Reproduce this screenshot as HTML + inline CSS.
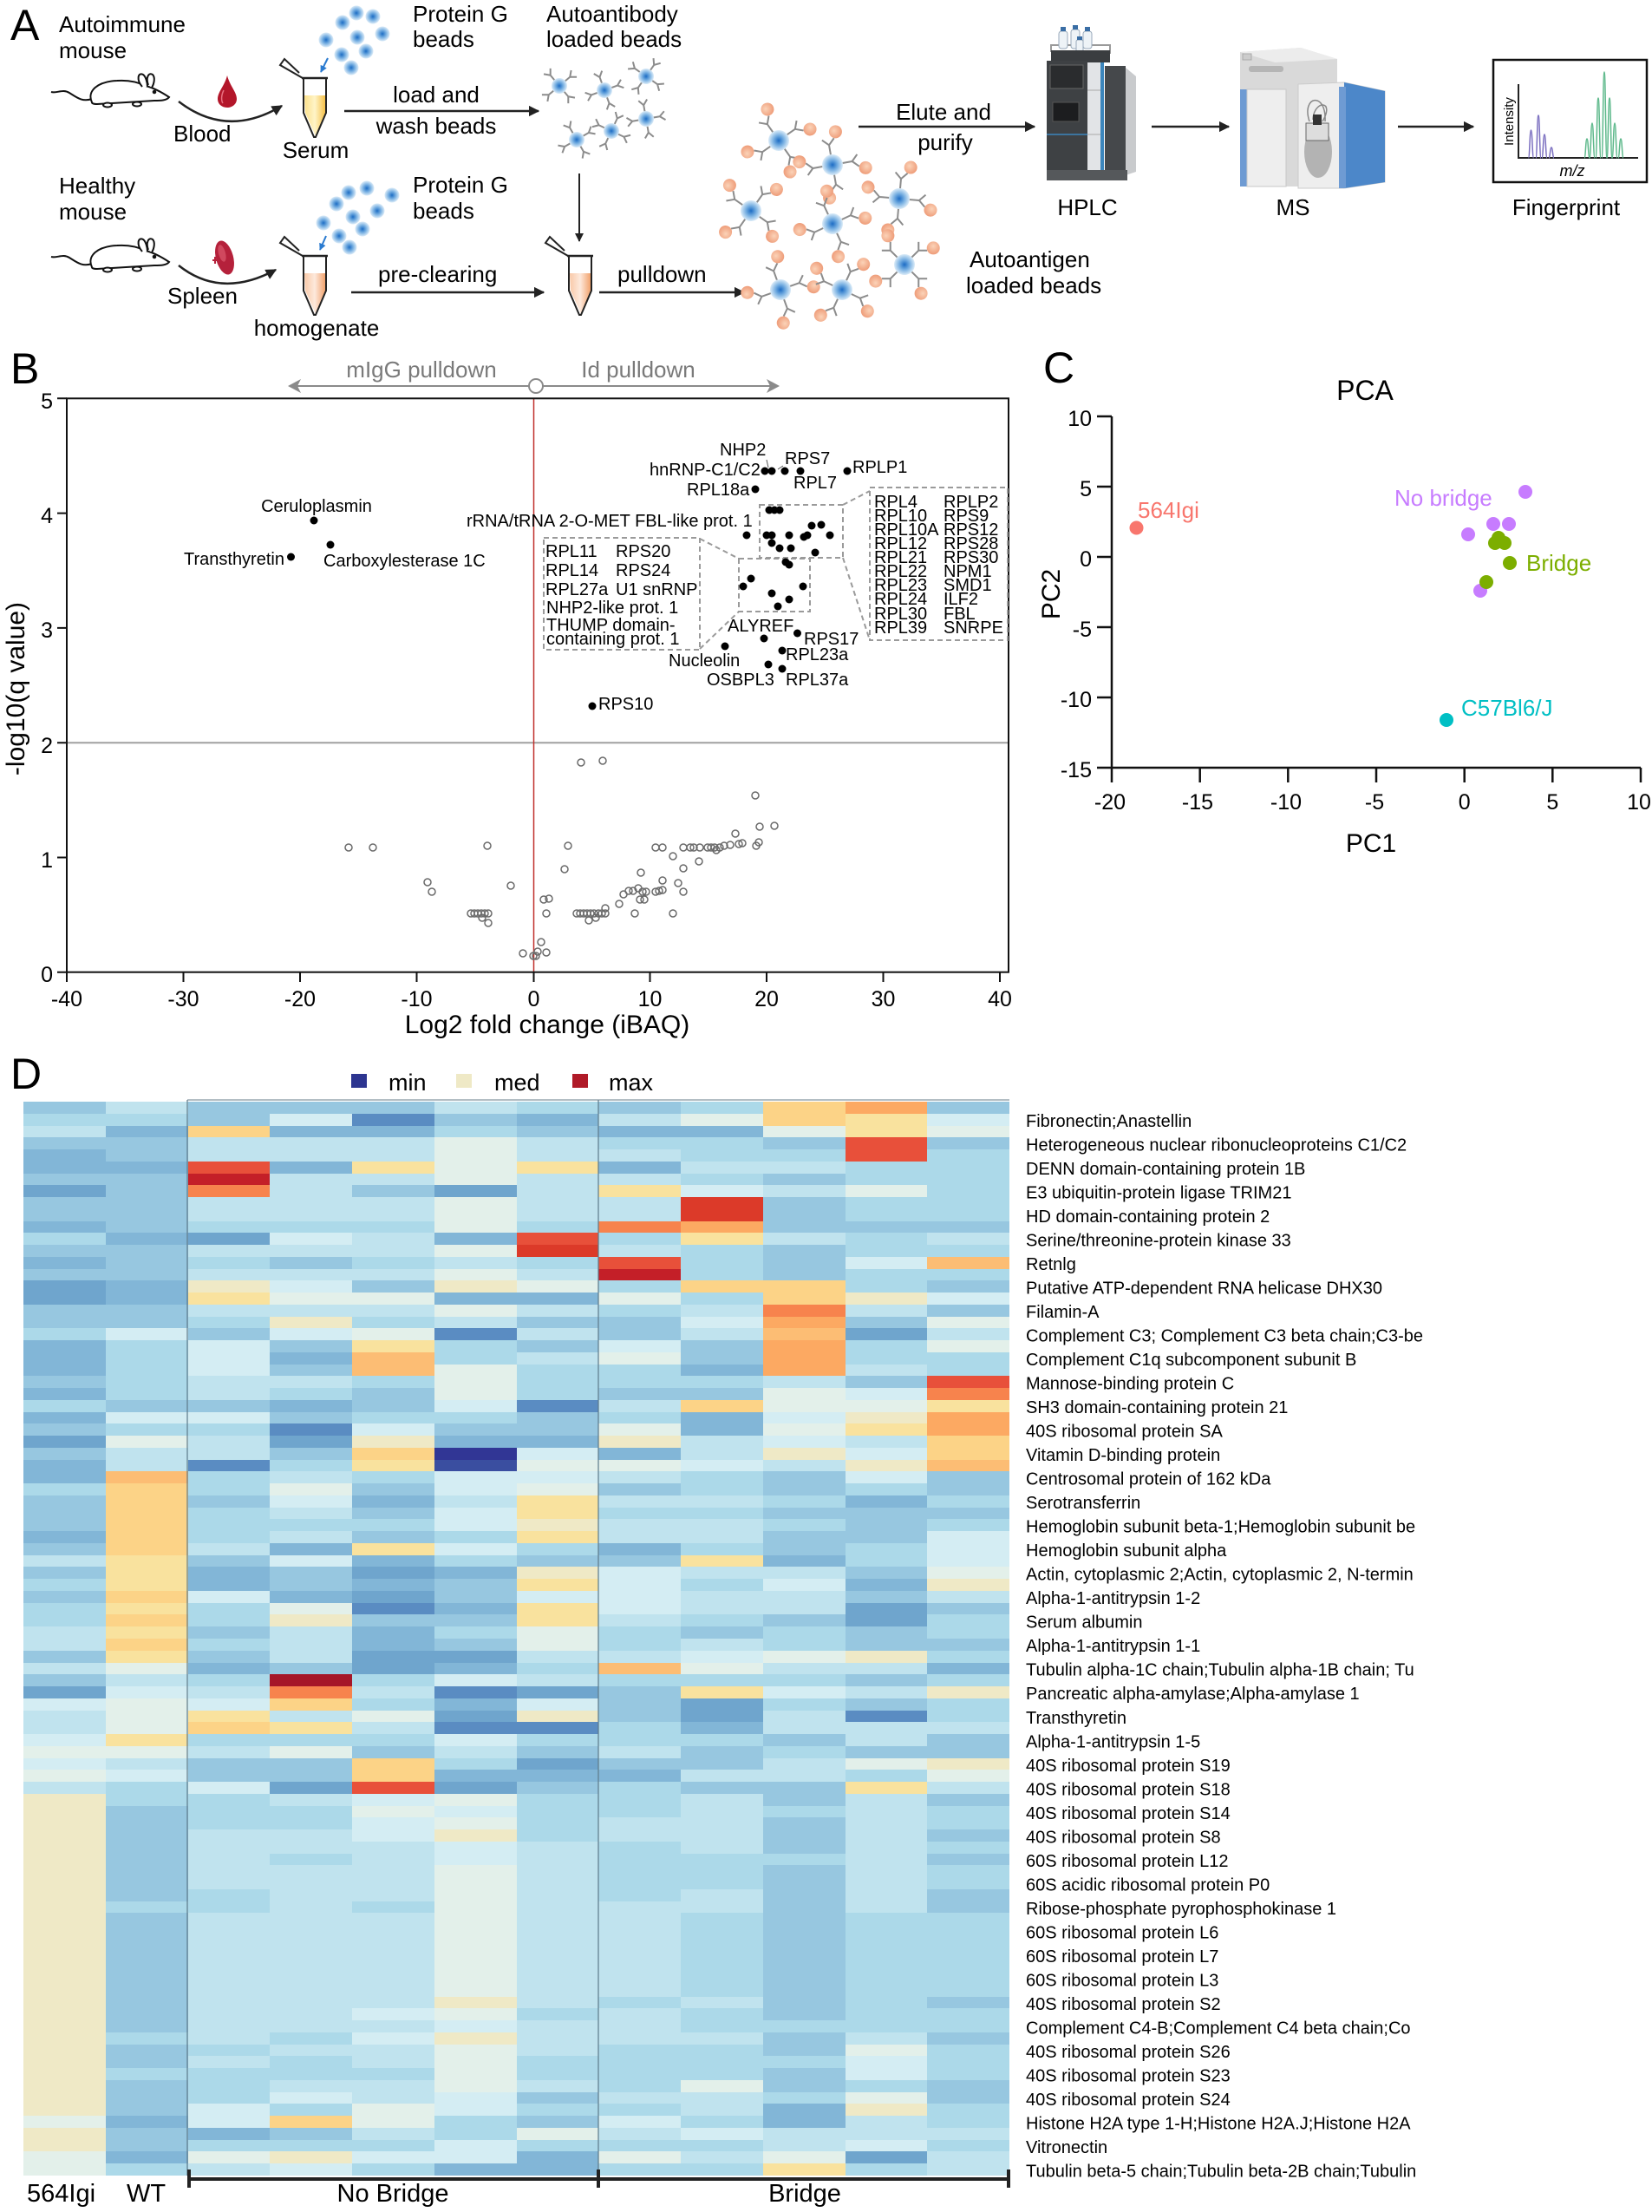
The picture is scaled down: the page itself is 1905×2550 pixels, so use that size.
<!DOCTYPE html>
<html><head><meta charset="utf-8">
<style>
html,body{margin:0;padding:0;background:#fff;}
#wrap{position:relative;width:1905px;height:2550px;overflow:hidden;background:#fff;font-family:"Liberation Sans",Arial,sans-serif;}
#hm{position:absolute;left:27px;top:1270px;width:1137px;height:1238px;display:grid;grid-template-columns:repeat(12,1fr);grid-template-rows:repeat(90,1fr);}
#hm>*{display:block;}
k0{background:#313695}kz{background:#3a4ea0}k1{background:#5a8cc2}k2{background:#6fa5cd}k3{background:#82b6d7}k4{background:#97c7e0}k5{background:#acd9e9}k6{background:#c0e3ee}k7{background:#d4edf3}k8{background:#e3f0ea}k9{background:#efe9c6}ka{background:#f9e29e}kb{background:#fcd387}kc{background:#fcbd74}kd{background:#fca962}ke{background:#f7834d}kf{background:#e8503a}kg{background:#dc3a29}kh{background:#c41f28}ki{background:#a51628}
svg{position:absolute;left:0;top:0;}
svg text{font-family:"Liberation Sans",Arial,sans-serif;}
</style></head><body><div id="wrap">
<div id="hm">
<k4></k4><k6></k6><k4></k4><k4></k4><k4></k4><k6></k6><k5></k5><k4></k4><k5></k5><kb></kb><kd></kd><k4></k4>
<k5></k5><k5></k5><k4></k4><k7></k7><k1></k1><k4></k4><k3></k3><k6></k6><k8></k8><kb></kb><ka></ka><k7></k7>
<k6></k6><k3></k3><kb></kb><k3></k3><k3></k3><k5></k5><k4></k4><k3></k3><k3></k3><k8></k8><ka></ka><k8></k8>
<k4></k4><k4></k4><k6></k6><k6></k6><k6></k6><k8></k8><k6></k6><k5></k5><k5></k5><k4></k4><kf></kf><k4></k4>
<k3></k3><k4></k4><k6></k6><k6></k6><k6></k6><k8></k8><k6></k6><k6></k6><k5></k5><k5></k5><kf></kf><k5></k5>
<k3></k3><k3></k3><kf></kf><k3></k3><ka></ka><k8></k8><ka></ka><k3></k3><k6></k6><k6></k6><k5></k5><k5></k5>
<k4></k4><k4></k4><kh></kh><k6></k6><k6></k6><k8></k8><k6></k6><k6></k6><k5></k5><k4></k4><k5></k5><k5></k5>
<k2></k2><k4></k4><ke></ke><k6></k6><k4></k4><k2></k2><k6></k6><ka></ka><k7></k7><k6></k6><k8></k8><k5></k5>
<k4></k4><k4></k4><k6></k6><k6></k6><k6></k6><k8></k8><k6></k6><k6></k6><kg></kg><k4></k4><k5></k5><k5></k5>
<k4></k4><k4></k4><k6></k6><k6></k6><k6></k6><k8></k8><k6></k6><k6></k6><kg></kg><k4></k4><k5></k5><k5></k5>
<k3></k3><k4></k4><k5></k5><k5></k5><k5></k5><k8></k8><k5></k5><ke></ke><kd></kd><k4></k4><k4></k4><k4></k4>
<k5></k5><k3></k3><k2></k2><k7></k7><k6></k6><k3></k3><kf></kf><k5></k5><ka></ka><k6></k6><k5></k5><k6></k6>
<k4></k4><k4></k4><k6></k6><k6></k6><k6></k6><k8></k8><kg></kg><k6></k6><k5></k5><k4></k4><k5></k5><k5></k5>
<k3></k3><k4></k4><k5></k5><k4></k4><k5></k5><k6></k6><k5></k5><kf></kf><k5></k5><k4></k4><k7></k7><kc></kc>
<k4></k4><k4></k4><k6></k6><k6></k6><k6></k6><k8></k8><k6></k6><kh></kh><k5></k5><k4></k4><k5></k5><k5></k5>
<k2></k2><k3></k3><k9></k9><k7></k7><k4></k4><k9></k9><k8></k8><k5></k5><kb></kb><kb></kb><k5></k5><k4></k4>
<k2></k2><k3></k3><ka></ka><k8></k8><k8></k8><k3></k3><k3></k3><k8></k8><k5></k5><kb></kb><k9></k9><k7></k7>
<k4></k4><k4></k4><k6></k6><k6></k6><k6></k6><k8></k8><k6></k6><k5></k5><k6></k6><ke></ke><k6></k6><k4></k4>
<k4></k4><k4></k4><k5></k5><k9></k9><k5></k5><k6></k6><k4></k4><k4></k4><k7></k7><kd></kd><k4></k4><k8></k8>
<k5></k5><k7></k7><k4></k4><k7></k7><k8></k8><k1></k1><k6></k6><k4></k4><k6></k6><kc></kc><k2></k2><k6></k6>
<k3></k3><k5></k5><k7></k7><k4></k4><ka></ka><k5></k5><k4></k4><k7></k7><k4></k4><kd></kd><k5></k5><k8></k8>
<k3></k3><k5></k5><k7></k7><k3></k3><kc></kc><k5></k5><k6></k6><k8></k8><k4></k4><kd></kd><k5></k5><k5></k5>
<k3></k3><k5></k5><k7></k7><k4></k4><kc></kc><k8></k8><k5></k5><k5></k5><k3></k3><kd></kd><k6></k6><k5></k5>
<k4></k4><k5></k5><k6></k6><k6></k6><k5></k5><k8></k8><k5></k5><k5></k5><k5></k5><k6></k6><k4></k4><kf></kf>
<k3></k3><k5></k5><k6></k6><k5></k5><k4></k4><k8></k8><k5></k5><k4></k4><k4></k4><k8></k8><k7></k7><ke></ke>
<k5></k5><k4></k4><k4></k4><k3></k3><k4></k4><k7></k7><k1></k1><k6></k6><kb></kb><k8></k8><k8></k8><ka></ka>
<k3></k3><k7></k7><k7></k7><k4></k4><k5></k5><k5></k5><k4></k4><k5></k5><k3></k3><k7></k7><k9></k9><kd></kd>
<k4></k4><k5></k5><k5></k5><k1></k1><k7></k7><k4></k4><k4></k4><k8></k8><k3></k3><k8></k8><ka></ka><kd></kd>
<k2></k2><k8></k8><k6></k6><k2></k2><k9></k9><k3></k3><k3></k3><k9></k9><k6></k6><k7></k7><k6></k6><kb></kb>
<k4></k4><k6></k6><k6></k6><k4></k4><kb></kb><k0></k0><k7></k7><k3></k3><k6></k6><k9></k9><k7></k7><kb></kb>
<k3></k3><k6></k6><k1></k1><k5></k5><ka></ka><kz></kz><k8></k8><k8></k8><k7></k7><k6></k6><k9></k9><kc></kc>
<k3></k3><kc></kc><k5></k5><k6></k6><k5></k5><k7></k7><k7></k7><k6></k6><k5></k5><k4></k4><k7></k7><k4></k4>
<k5></k5><kb></kb><k5></k5><k8></k8><k4></k4><k7></k7><k8></k8><k4></k4><k5></k5><k4></k4><k5></k5><k4></k4>
<k4></k4><kb></kb><k4></k4><k7></k7><k3></k3><k6></k6><ka></ka><k6></k6><k6></k6><k5></k5><k3></k3><k5></k5>
<k4></k4><kb></kb><k5></k5><k6></k6><k4></k4><k7></k7><ka></ka><k5></k5><k5></k5><k4></k4><k4></k4><k4></k4>
<k4></k4><kb></kb><k5></k5><k5></k5><k5></k5><k7></k7><k9></k9><k6></k6><k6></k6><k5></k5><k4></k4><k5></k5>
<k3></k3><kb></kb><k5></k5><k6></k6><k4></k4><k5></k5><ka></ka><k6></k6><k6></k6><k4></k4><k4></k4><k7></k7>
<k4></k4><kb></kb><k6></k6><k3></k3><ka></ka><k7></k7><k5></k5><k3></k3><k5></k5><k4></k4><k5></k5><k7></k7>
<k6></k6><ka></ka><k4></k4><k7></k7><k3></k3><k5></k5><k4></k4><k4></k4><ka></ka><k3></k3><k5></k5><k7></k7>
<k4></k4><ka></ka><k3></k3><k4></k4><k2></k2><k3></k3><k9></k9><k7></k7><k6></k6><k6></k6><k4></k4><k8></k8>
<k5></k5><ka></ka><k3></k3><k4></k4><k3></k3><k4></k4><ka></ka><k7></k7><k5></k5><k7></k7><k3></k3><k9></k9>
<k4></k4><kb></kb><k7></k7><k3></k3><k2></k2><k4></k4><k7></k7><k7></k7><k6></k6><k6></k6><k4></k4><k6></k6>
<k5></k5><ka></ka><k5></k5><k8></k8><k1></k1><k3></k3><ka></ka><k7></k7><k6></k6><k6></k6><k2></k2><k4></k4>
<k5></k5><kb></kb><k5></k5><k9></k9><k4></k4><k4></k4><ka></ka><k6></k6><k5></k5><k4></k4><k2></k2><k5></k5>
<k6></k6><ka></ka><k4></k4><k6></k6><k3></k3><k5></k5><k8></k8><k5></k5><k4></k4><k5></k5><k4></k4><k5></k5>
<k6></k6><kb></kb><k5></k5><k6></k6><k3></k3><k4></k4><k8></k8><k5></k5><k6></k6><k5></k5><k4></k4><k4></k4>
<k4></k4><ka></ka><k4></k4><k6></k6><k2></k2><k2></k2><k6></k6><k6></k6><k7></k7><k8></k8><k9></k9><k5></k5>
<k6></k6><k8></k8><k3></k3><k4></k4><k2></k2><k3></k3><k5></k5><kc></kc><k8></k8><k6></k6><k6></k6><k3></k3>
<k4></k4><k6></k6><k5></k5><ki></ki><k5></k5><k7></k7><k6></k6><k5></k5><k5></k5><k5></k5><k4></k4><k5></k5>
<k2></k2><k7></k7><k6></k6><ke></ke><k6></k6><k1></k1><k2></k2><k4></k4><ka></ka><k7></k7><k6></k6><k9></k9>
<k7></k7><k8></k8><k7></k7><kb></kb><k5></k5><k3></k3><k7></k7><k4></k4><k2></k2><k5></k5><k4></k4><k5></k5>
<k6></k6><k8></k8><ka></ka><k6></k6><k8></k8><k2></k2><k9></k9><k4></k4><k2></k2><k6></k6><k1></k1><k5></k5>
<k6></k6><k8></k8><kb></kb><ka></ka><k6></k6><k1></k1><k1></k1><k5></k5><k3></k3><k6></k6><k6></k6><k6></k6>
<k7></k7><ka></ka><k5></k5><k5></k5><k5></k5><k7></k7><k5></k5><k5></k5><k5></k5><k4></k4><k6></k6><k4></k4>
<k8></k8><k8></k8><k6></k6><k8></k8><k4></k4><k6></k6><k4></k4><k6></k6><k4></k4><k5></k5><k4></k4><k4></k4>
<k7></k7><k6></k6><k4></k4><k4></k4><kb></kb><k5></k5><k2></k2><k4></k4><k4></k4><k6></k6><k8></k8><k9></k9>
<k8></k8><k7></k7><k4></k4><k4></k4><kb></kb><k3></k3><k3></k3><k3></k3><k6></k6><k6></k6><k5></k5><k8></k8>
<k6></k6><k5></k5><k7></k7><k2></k2><kf></kf><k2></k2><k4></k4><k5></k5><k4></k4><k4></k4><ka></ka><k6></k6>
<k9></k9><k5></k5><k5></k5><k6></k6><k7></k7><k8></k8><k5></k5><k5></k5><k6></k6><k4></k4><k6></k6><k4></k4>
<k9></k9><k4></k4><k5></k5><k5></k5><k8></k8><k7></k7><k5></k5><k5></k5><k6></k6><k5></k5><k6></k6><k5></k5>
<k9></k9><k4></k4><k5></k5><k5></k5><k7></k7><k8></k8><k5></k5><k6></k6><k6></k6><k4></k4><k6></k6><k5></k5>
<k9></k9><k4></k4><k6></k6><k6></k6><k7></k7><k9></k9><k5></k5><k6></k6><k6></k6><k4></k4><k6></k6><k4></k4>
<k9></k9><k4></k4><k6></k6><k6></k6><k6></k6><k7></k7><k6></k6><k5></k5><k6></k6><k4></k4><k6></k6><k5></k5>
<k9></k9><k4></k4><k6></k6><k5></k5><k6></k6><k7></k7><k6></k6><k5></k5><k5></k5><k5></k5><k6></k6><k4></k4>
<k9></k9><k4></k4><k6></k6><k6></k6><k6></k6><k8></k8><k6></k6><k5></k5><k5></k5><k4></k4><k6></k6><k5></k5>
<k9></k9><k4></k4><k6></k6><k6></k6><k6></k6><k8></k8><k6></k6><k5></k5><k5></k5><k4></k4><k6></k6><k5></k5>
<k9></k9><k4></k4><k5></k5><k6></k6><k6></k6><k8></k8><k6></k6><k5></k5><k6></k6><k4></k4><k6></k6><k4></k4>
<k9></k9><k5></k5><k5></k5><k6></k6><k5></k5><k8></k8><k6></k6><k6></k6><k6></k6><k4></k4><k6></k6><k4></k4>
<k9></k9><k4></k4><k6></k6><k6></k6><k6></k6><k8></k8><k6></k6><k6></k6><k5></k5><k4></k4><k5></k5><k5></k5>
<k9></k9><k4></k4><k6></k6><k6></k6><k6></k6><k8></k8><k6></k6><k6></k6><k5></k5><k4></k4><k5></k5><k5></k5>
<k9></k9><k4></k4><k6></k6><k6></k6><k6></k6><k8></k8><k6></k6><k6></k6><k5></k5><k4></k4><k5></k5><k5></k5>
<k9></k9><k4></k4><k6></k6><k6></k6><k6></k6><k8></k8><k6></k6><k6></k6><k5></k5><k4></k4><k5></k5><k5></k5>
<k9></k9><k4></k4><k6></k6><k6></k6><k6></k6><k8></k8><k6></k6><k6></k6><k5></k5><k4></k4><k5></k5><k5></k5>
<k9></k9><k4></k4><k6></k6><k6></k6><k6></k6><k8></k8><k6></k6><k6></k6><k5></k5><k4></k4><k5></k5><k5></k5>
<k9></k9><k4></k4><k6></k6><k6></k6><k6></k6><k8></k8><k6></k6><k6></k6><k5></k5><k4></k4><k5></k5><k5></k5>
<k9></k9><k4></k4><k6></k6><k6></k6><k6></k6><k9></k9><k6></k6><k5></k5><k6></k6><k4></k4><k5></k5><k4></k4>
<k9></k9><k4></k4><k6></k6><k6></k6><k7></k7><k8></k8><k5></k5><k6></k6><k5></k5><k4></k4><k5></k5><k5></k5>
<k9></k9><k4></k4><k6></k6><k6></k6><k6></k6><k7></k7><k6></k6><k6></k6><k5></k5><k5></k5><k5></k5><k5></k5>
<k9></k9><k5></k5><k6></k6><k5></k5><k7></k7><k9></k9><k6></k6><k6></k6><k6></k6><k4></k4><k6></k6><k4></k4>
<k9></k9><k4></k4><k5></k5><k6></k6><k6></k6><k8></k8><k6></k6><k5></k5><k5></k5><k4></k4><k8></k8><k5></k5>
<k9></k9><k4></k4><k6></k6><k5></k5><k6></k6><k8></k8><k5></k5><k5></k5><k5></k5><k5></k5><k7></k7><k5></k5>
<k9></k9><k5></k5><k5></k5><k5></k5><k5></k5><k8></k8><k5></k5><k5></k5><k5></k5><k4></k4><k7></k7><k5></k5>
<k9></k9><k4></k4><k5></k5><k6></k6><k6></k6><k8></k8><k6></k6><k5></k5><k8></k8><k4></k4><k5></k5><k4></k4>
<k9></k9><k4></k4><k5></k5><k7></k7><k6></k6><k7></k7><k4></k4><k6></k6><k6></k6><k5></k5><k8></k8><k4></k4>
<k9></k9><k4></k4><k7></k7><k5></k5><k8></k8><k7></k7><k5></k5><k5></k5><k6></k6><k3></k3><k9></k9><k5></k5>
<k8></k8><k3></k3><k7></k7><kb></kb><k8></k8><k5></k5><k4></k4><k7></k7><k5></k5><k3></k3><k6></k6><k5></k5>
<k9></k9><k4></k4><k3></k3><k4></k4><k6></k6><k5></k5><k8></k8><k6></k6><k7></k7><k6></k6><k6></k6><k6></k6>
<k9></k9><k4></k4><k5></k5><k5></k5><k5></k5><k7></k7><k5></k5><k5></k5><k5></k5><k6></k6><k7></k7><k5></k5>
<k8></k8><k3></k3><k8></k8><k9></k9><k7></k7><k7></k7><k3></k3><k8></k8><k6></k6><k8></k8><k2></k2><k6></k6>
<k8></k8><k5></k5><k6></k6><k7></k7><k5></k5><k3></k3><k3></k3><k5></k5><k5></k5><ka></ka><k5></k5><k6></k6>
</div>
<svg width="1905" height="2550" viewBox="0 0 1905 2550" xmlns="http://www.w3.org/2000/svg">
<defs>
<radialGradient id="bd" cx="50%" cy="50%" r="50%"><stop offset="0" stop-color="#1c6cc4"/><stop offset="0.5" stop-color="#78b0e2"/><stop offset="1" stop-color="#dcecf8"/></radialGradient>
<radialGradient id="og" cx="40%" cy="40%" r="60%"><stop offset="0" stop-color="#fbd3b8"/><stop offset="1" stop-color="#ef9f7c"/></radialGradient>
<linearGradient id="ser" x1="0" y1="0" x2="1" y2="0"><stop offset="0" stop-color="#fbe08a"/><stop offset="0.5" stop-color="#fff4c8"/><stop offset="1" stop-color="#f6c24a"/></linearGradient>
<linearGradient id="hom" x1="0" y1="0" x2="1" y2="0"><stop offset="0" stop-color="#f9c9a8"/><stop offset="0.5" stop-color="#fde9dc"/><stop offset="1" stop-color="#f2a36e"/></linearGradient>
<marker id="ah" viewBox="0 0 10 10" refX="9" refY="5" markerWidth="5" markerHeight="5" orient="auto"><path d="M0,0 L10,5 L0,10 z" fill="#222"/></marker>
<marker id="ahb" viewBox="0 0 10 10" refX="9" refY="5" markerWidth="4" markerHeight="4" orient="auto"><path d="M0,0 L10,5 L0,10 z" fill="#2b7bd0"/></marker>
<g id="ab"><path d="M0,-8 V-16 M0,-16 L-5,-22 M0,-16 L5,-22" stroke="#8c8c8c" stroke-width="2" fill="none"/></g>
<g id="abb"><use href="#ab" transform="rotate(-40)"/><use href="#ab" transform="rotate(50)"/><use href="#ab" transform="rotate(140)"/><use href="#ab" transform="rotate(230)"/><circle r="9" fill="url(#bd)"/></g>
<g id="ag1"><path d="M0,-11 V-23 M0,-23 L-7,-30 M0,-23 L7,-30" stroke="#8c8c8c" stroke-width="2" fill="none"/><circle cx="10" cy="-37" r="7.5" fill="url(#og)"/></g>
<g id="agb"><use href="#ag1" transform="rotate(-35)"/><use href="#ag1" transform="rotate(55)"/><use href="#ag1" transform="rotate(145)"/><use href="#ag1" transform="rotate(235)"/><circle r="12" fill="url(#bd)"/></g>
<g id="mouse" fill="#fff" stroke="#111" stroke-width="2">
<path d="M106,114 C95,118 88,112 80,107 C72,102 66,108 59,106" fill="none"/>
<path d="M106,118 C100,105 112,94 135,93 C150,92 160,95 168,99 C176,101 186,106 195,112 C192,116 185,116 178,116 L112,120 C108,120 106,119 106,118 Z"/>
<path d="M164,100 C157,92 159,83 165,86 C168,88 170,95 170,100"/>
<path d="M171,98 C168,90 171,83 176,86 C179,89 178,96 175,101"/>
<ellipse cx="124" cy="121" rx="5" ry="2.5"/><ellipse cx="158" cy="120" rx="5" ry="2.5"/>
<circle cx="178" cy="106" r="1.3" fill="#111"/>
</g>
<g id="tube" fill="none" stroke="#222" stroke-width="2">
<path d="M-14,0 L-40,-15 L-35,-22 L-18,-6" fill="#fff"/>
<path d="M-13,0 H13 V40 L1,68 H-1 L-13,40 Z"/>
<path d="M-15,0 H15" stroke-width="2.5"/>
</g>
</defs>

<!-- Panel A -->
<g font-size="26" fill="#000">
<text x="12" y="46" font-size="50">A</text>
<text x="68" y="37">Autoimmune</text><text x="68" y="67">mouse</text>
<text x="200" y="163">Blood</text>
<text x="364" y="182" text-anchor="middle">Serum</text>
<text x="476" y="25">Protein G</text><text x="476" y="54">beads</text>
<text x="630" y="25">Autoantibody</text><text x="630" y="54">loaded beads</text>
<text x="503" y="118" text-anchor="middle">load and</text><text x="503" y="154" text-anchor="middle">wash beads</text>
<text x="68" y="223">Healthy</text><text x="68" y="253">mouse</text>
<text x="193" y="350">Spleen</text>
<text x="365" y="387" text-anchor="middle">homogenate</text>
<text x="476" y="222">Protein G</text><text x="476" y="252">beads</text>
<text x="436" y="325">pre-clearing</text>
<text x="712" y="325">pulldown</text>
<text x="1088" y="138" text-anchor="middle">Elute and</text><text x="1090" y="173" text-anchor="middle">purify</text>
<text x="1118" y="308">Autoantigen</text><text x="1114" y="338">loaded beads</text>
<text x="1254" y="248" text-anchor="middle">HPLC</text>
<text x="1491" y="248" text-anchor="middle">MS</text>
<text x="1806" y="248" text-anchor="middle">Fingerprint</text>
</g>
<use href="#mouse"/>
<use href="#mouse" transform="translate(0,190)"/>
<path d="M262,87 C259,99 251,106 251,114 C251,120 256,124 262,124 C268,124 273,120 273,114 C273,106 265,99 262,87 Z" fill="#b3162a"/>
<path d="M258,104 C255,110 255,116 257,119" stroke="#e87080" stroke-width="1.5" fill="none"/>
<ellipse cx="259" cy="297" rx="10" ry="20" transform="rotate(-15 259 297)" fill="#b5213b"/>
<ellipse cx="256" cy="292" rx="4" ry="10" transform="rotate(-15 256 292)" fill="#d0485e"/>
<path d="M252,300 L245,300 M248,296 L248,304" stroke="#b5213b" stroke-width="2"/>
<g fill="none" stroke="#222" stroke-width="2.5" marker-end="url(#ah)">
<path d="M206,117 Q262,160 325,122"/>
<path d="M206,306 Q255,345 318,311"/>
<line x1="397" y1="128" x2="621" y2="128"/>
<line x1="405" y1="337" x2="627" y2="337"/>
<line x1="691" y1="337" x2="858" y2="337"/>
<line x1="990" y1="146" x2="1193" y2="146"/>
<line x1="1328" y1="146" x2="1417" y2="146"/>
<line x1="1612" y1="146" x2="1699" y2="146"/>
<line x1="668" y1="200" x2="668" y2="278" stroke-width="2"/>
</g>
<!-- tubes -->
<path d="M351,110 H375 V130 L364,157 L352,130 Z" fill="url(#ser)"/>
<use href="#tube" transform="translate(363,90)"/>
<path d="M351,315 H375 V335 L364,362 L352,335 Z" fill="url(#hom)"/>
<use href="#tube" transform="translate(363,295)"/>
<path d="M657,315 H681 V335 L670,362 L658,335 Z" fill="url(#hom)"/>
<use href="#tube" transform="translate(669,295)"/>
<line x1="378" y1="67" x2="370" y2="83" stroke="#2b7bd0" stroke-width="2" marker-end="url(#ahb)"/>
<line x1="376" y1="272" x2="369" y2="288" stroke="#2b7bd0" stroke-width="2" marker-end="url(#ahb)"/>
<!-- protein G beads -->
<g fill="url(#bd)">
<circle cx="411" cy="15" r="8.5"/><circle cx="430" cy="19" r="8.5"/><circle cx="395" cy="26" r="8.5"/><circle cx="441" cy="39" r="8.5"/><circle cx="376" cy="46" r="8.5"/><circle cx="412" cy="43" r="8.5"/><circle cx="422" cy="59" r="8.5"/><circle cx="394" cy="63" r="8.5"/><circle cx="405" cy="78" r="8.5"/>
<circle cx="423" cy="217" r="8.5"/><circle cx="402" cy="222" r="8.5"/><circle cx="452" cy="225" r="8.5"/><circle cx="388" cy="235" r="8.5"/><circle cx="435" cy="243" r="8.5"/><circle cx="407" cy="250" r="8.5"/><circle cx="373" cy="257" r="8.5"/><circle cx="418" cy="264" r="8.5"/><circle cx="391" cy="272" r="8.5"/><circle cx="403" cy="285" r="8.5"/>
</g>
<use href="#abb" transform="translate(645,99)"/><use href="#abb" transform="translate(697,104) rotate(20)"/><use href="#abb" transform="translate(745,88) rotate(-15)"/><use href="#abb" transform="translate(665,161) rotate(10)"/><use href="#abb" transform="translate(705,151) rotate(-25)"/><use href="#abb" transform="translate(745,137) rotate(30)"/>
<use href="#agb" transform="translate(898,162)"/><use href="#agb" transform="translate(960,190) rotate(25)"/><use href="#agb" transform="translate(866,243) rotate(-20)"/><use href="#agb" transform="translate(960,258) rotate(10)"/><use href="#agb" transform="translate(1037,229) rotate(40)"/><use href="#agb" transform="translate(1043,305) rotate(-10)"/><use href="#agb" transform="translate(900,334) rotate(15)"/><use href="#agb" transform="translate(971,334) rotate(-30)"/>
<!-- HPLC -->
<g>
<path d="M1212,60 V52 H1280 V62" stroke="#9a9a9a" stroke-width="2" fill="none"/>
<rect x="1221" y="36" width="10" height="20" rx="3" fill="#eef3f7" stroke="#9ab" stroke-width="1"/>
<rect x="1235" y="34" width="10" height="22" rx="3" fill="#eef3f7" stroke="#9ab" stroke-width="1"/>
<rect x="1249" y="36" width="10" height="20" rx="3" fill="#eef3f7" stroke="#9ab" stroke-width="1"/>
<rect x="1241" y="46" width="8" height="14" rx="2" fill="#eef3f7" stroke="#9ab" stroke-width="1"/>
<rect x="1223" y="31" width="6" height="5" fill="#3a6ea5"/><rect x="1237" y="29" width="6" height="5" fill="#3a6ea5"/><rect x="1251" y="31" width="6" height="5" fill="#3a6ea5"/><rect x="1242" y="42" width="6" height="4" fill="#3a6ea5"/>
<rect x="1212" y="58" width="68" height="14" fill="#3a3d40"/>
<rect x="1207" y="70" width="47" height="130" fill="#3e4144"/>
<rect x="1211" y="75" width="38" height="27" fill="#2a2c2e" stroke="#666" stroke-width="1"/>
<rect x="1214" y="118" width="30" height="22" fill="#1c1d1f" stroke="#555" stroke-width="1"/>
<rect x="1254" y="72" width="16" height="128" fill="#e2e4e7"/>
<line x1="1254" y1="104" x2="1270" y2="104" stroke="#aaa"/><line x1="1254" y1="155" x2="1270" y2="155" stroke="#aaa"/>
<line x1="1207" y1="155" x2="1254" y2="155" stroke="#3c86bc" stroke-width="1.5"/>
<rect x="1269" y="72" width="4" height="128" fill="#3c86bc"/>
<rect x="1274" y="76" width="24" height="126" fill="#45484b"/>
<polygon points="1298,78 1310,88 1310,198 1298,202" fill="#c9cbcd"/>
<rect x="1207" y="196" width="93" height="12" fill="#55585b"/>
</g>
<!-- MS -->
<g>
<polygon points="1430,60 1500,55 1542,68 1542,215 1430,215" fill="#d9d9d9"/>
<polygon points="1430,60 1500,55 1542,68 1470,72" fill="#ececec"/>
<rect x="1433" y="62" width="10" height="7" fill="#ccc" stroke="#aaa" stroke-width="1"/>
<rect x="1440" y="76" width="40" height="7" rx="3" fill="#b5b5b5"/>
<rect x="1430" y="103" width="8" height="112" fill="#6e9bd3"/>
<rect x="1438" y="103" width="45" height="112" fill="#eeeeee" stroke="#c8c8c8" stroke-width="1"/>
<polygon points="1497,97 1550,95 1597,105 1597,210 1550,217 1497,217" fill="#eeeeee" stroke="#ccc" stroke-width="1"/>
<polygon points="1550,95 1597,105 1597,210 1550,217" fill="#4c87c9"/>
<rect x="1544" y="100" width="8" height="117" fill="#6e9bd3"/>
<ellipse cx="1520" cy="175" rx="16" ry="30" fill="#b3b3b3"/>
<path d="M1510,140 C1500,110 1530,105 1528,140 M1514,138 C1515,115 1540,115 1525,140" stroke="#888" stroke-width="1.5" fill="none"/>
<rect x="1506" y="142" width="26" height="20" fill="#ddd" stroke="#666" stroke-width="1"/>
<rect x="1514" y="132" width="10" height="12" fill="#333"/>
</g>
<!-- Fingerprint -->
<rect x="1722" y="69" width="177" height="141" fill="#fff" stroke="#111" stroke-width="2.5"/>
<path d="M1751,97 V182 H1889" stroke="#222" stroke-width="2" fill="none"/>
<text transform="translate(1745,140) rotate(-90)" font-size="15" text-anchor="middle">Intensity</text>
<g fill="none" stroke="#7b6fc0" stroke-width="1.5">
<path d="M1762.5,182 C1764,182 1764,150 1765.5,150 C1767,150 1767,182 1768.5,182"/>
<path d="M1771,182 C1772.5,182 1772.5,133 1774,133 C1775.5,133 1775.5,182 1777,182"/>
<path d="M1778,182 C1779.5,182 1779.5,155 1781,155 C1782.5,155 1782.5,182 1784,182"/>
<path d="M1786,182 C1787.5,182 1787.5,170 1789,170 C1790.5,170 1790.5,182 1792,182"/>
</g>
<g fill="none" stroke="#5cb88a" stroke-width="1.5">
<path d="M1827,182 C1828.5,182 1828.5,160 1830,160 C1831.5,160 1831.5,182 1833,182"/>
<path d="M1833,182 C1834.5,182 1834.5,142 1836,142 C1837.5,142 1837.5,182 1839,182"/>
<path d="M1840,182 C1841.5,182 1841.5,113 1843,113 C1844.5,113 1844.5,182 1846,182"/>
<path d="M1847,182 C1848.5,182 1848.5,83 1850,83 C1851.5,83 1851.5,182 1853,182"/>
<path d="M1853,182 C1854.5,182 1854.5,113 1856,113 C1857.5,113 1857.5,182 1859,182"/>
<path d="M1859,182 C1860.5,182 1860.5,142 1862,142 C1863.5,142 1863.5,182 1865,182"/>
<path d="M1866,182 C1867.5,182 1867.5,160 1869,160 C1870.5,160 1870.5,182 1872,182"/>
</g>
<text x="1813" y="203" font-size="18" font-style="italic" text-anchor="middle">m/z</text>

<!-- Panel B -->
<text x="12" y="442" font-size="50">B</text>
<text x="486" y="435" font-size="26" fill="#7a7a7a" text-anchor="middle">mIgG pulldown</text>
<text x="736" y="435" font-size="26" fill="#7a7a7a" text-anchor="middle">Id pulldown</text>
<line x1="340" y1="445" x2="892" y2="445" stroke="#8a8a8a" stroke-width="2"/>
<polygon points="332,445 347,437 343,445 347,453" fill="#8a8a8a"/>
<polygon points="899,445 884,437 888,445 884,453" fill="#8a8a8a"/>
<circle cx="618" cy="445" r="8" fill="#fff" stroke="#8a8a8a" stroke-width="2"/>
<line x1="77" y1="856.2" x2="1163" y2="856.2" stroke="#a0a0a0" stroke-width="2"/>
<line x1="615.5" y1="459" x2="615.5" y2="1121" stroke="#c0302c" stroke-width="1.5"/>
<rect x="77" y="459.3" width="1086" height="661.4" fill="none" stroke="#111" stroke-width="2"/>
<path d="M66,459.3 H77 M66,591.6 H77 M66,723.9 H77 M66,856.2 H77 M66,988.5 H77 M66,1120.7 H77 M77,1121 V1132 M211.5,1121 V1132 M346,1121 V1132 M480.5,1121 V1132 M615.5,1121 V1132 M749.5,1121 V1132 M884,1121 V1132 M1018.5,1121 V1132 M1153,1121 V1132" stroke="#111" stroke-width="2"/>
<g font-size="25" text-anchor="end">
<text x="61" y="471">5</text><text x="61" y="603">4</text><text x="61" y="735">3</text><text x="61" y="868">2</text><text x="61" y="1000">1</text><text x="61" y="1132">0</text>
</g>
<g font-size="25" text-anchor="middle">
<text x="77" y="1160">-40</text><text x="211.5" y="1160">-30</text><text x="346" y="1160">-20</text><text x="480.5" y="1160">-10</text><text x="615.5" y="1160">0</text><text x="749.5" y="1160">10</text><text x="884" y="1160">20</text><text x="1018.5" y="1160">30</text><text x="1153" y="1160">40</text>
</g>
<text x="631" y="1191" font-size="30" text-anchor="middle">Log2 fold change (iBAQ)</text>
<text transform="translate(28,794) rotate(-90)" font-size="30" text-anchor="middle">-log10(q value)</text>
<!-- open circles -->
<g fill="none" stroke="#6a6a6a" stroke-width="1.5">
<circle cx="670" cy="879" r="4"/><circle cx="695" cy="877" r="4"/><circle cx="871" cy="917" r="4"/><circle cx="876" cy="953" r="4"/><circle cx="893" cy="952" r="4"/><circle cx="848" cy="961" r="4"/><circle cx="872" cy="975" r="4"/><circle cx="875" cy="971" r="4"/><circle cx="402" cy="977" r="4"/><circle cx="430" cy="977" r="4"/><circle cx="562" cy="975" r="4"/><circle cx="655" cy="975" r="4"/><circle cx="756" cy="977" r="4"/><circle cx="764" cy="977" r="4"/>
<circle cx="788" cy="977" r="4"/><circle cx="796" cy="977" r="4"/><circle cx="800" cy="977" r="4"/><circle cx="807" cy="977" r="4"/><circle cx="816" cy="977" r="4"/><circle cx="820" cy="977" r="4"/><circle cx="824" cy="977" r="4"/><circle cx="826" cy="980" r="4"/><circle cx="830" cy="977" r="4"/><circle cx="835" cy="975" r="4"/><circle cx="842" cy="974" r="4"/><circle cx="852" cy="973" r="4"/><circle cx="856" cy="972" r="4"/>
<circle cx="776" cy="987" r="4"/><circle cx="806" cy="993" r="4"/><circle cx="651" cy="1002" r="4"/><circle cx="788" cy="1001" r="4"/><circle cx="739" cy="1006" r="4"/><circle cx="764" cy="1015" r="4"/><circle cx="782" cy="1018" r="4"/><circle cx="493" cy="1017" r="4"/><circle cx="498" cy="1028" r="4"/><circle cx="589" cy="1021" r="4"/>
<circle cx="719" cy="1031" r="4"/><circle cx="725" cy="1027" r="4"/><circle cx="730" cy="1027" r="4"/><circle cx="736" cy="1024" r="4"/><circle cx="741" cy="1028" r="4"/><circle cx="745" cy="1028" r="4"/><circle cx="756" cy="1028" r="4"/><circle cx="760" cy="1027" r="4"/><circle cx="764" cy="1026" r="4"/>
<circle cx="738" cy="1037" r="4"/><circle cx="743" cy="1037" r="4"/><circle cx="788" cy="1028" r="4"/><circle cx="714" cy="1042" r="4"/><circle cx="627" cy="1037" r="4"/><circle cx="633" cy="1036" r="4"/>
<circle cx="543" cy="1053" r="4"/><circle cx="547" cy="1053" r="4"/><circle cx="551" cy="1053" r="4"/><circle cx="555" cy="1053" r="4"/><circle cx="559" cy="1053" r="4"/><circle cx="563" cy="1053" r="4"/><circle cx="556" cy="1058" r="4"/><circle cx="563" cy="1064" r="4"/>
<circle cx="665" cy="1053" r="4"/><circle cx="669" cy="1053" r="4"/><circle cx="673" cy="1053" r="4"/><circle cx="677" cy="1053" r="4"/><circle cx="681" cy="1053" r="4"/><circle cx="685" cy="1053" r="4"/><circle cx="690" cy="1053" r="4"/><circle cx="694" cy="1053" r="4"/><circle cx="698" cy="1053" r="4"/>
<circle cx="679" cy="1061" r="4"/><circle cx="687" cy="1058" r="4"/><circle cx="698" cy="1047" r="4"/><circle cx="732" cy="1053" r="4"/><circle cx="776" cy="1053" r="4"/><circle cx="630" cy="1053" r="4"/><circle cx="624" cy="1086" r="4"/>
<circle cx="603" cy="1099" r="4"/><circle cx="615" cy="1102" r="4"/><circle cx="620" cy="1097" r="4"/><circle cx="618" cy="1102" r="4"/><circle cx="630" cy="1098" r="4"/>
</g>
<!-- dashed boxes -->
<g fill="none" stroke="#9a9a9a" stroke-width="2" stroke-dasharray="6,4">
<rect x="627" y="620" width="180" height="129"/>
<rect x="852" y="644" width="82" height="61"/>
<rect x="876" y="582" width="96" height="61"/>
<rect x="1003" y="562" width="159" height="176"/>
<path d="M807,621 L852,644 M807,748 L852,705 M972,582 L1003,566 M972,643 L1003,738"/>
</g>
<!-- filled points -->
<g fill="#000">
<circle cx="362" cy="600" r="4.5"/><circle cx="381" cy="628" r="4.5"/><circle cx="335.5" cy="642" r="4.5"/>
<circle cx="882" cy="543" r="4.5"/><circle cx="890" cy="543" r="4.5"/><circle cx="905" cy="543" r="4.5"/><circle cx="923" cy="543" r="4.5"/><circle cx="977" cy="543" r="4.5"/>
<circle cx="871" cy="564" r="4.5"/>
<circle cx="887" cy="588" r="4.5"/><circle cx="893" cy="588" r="4.5"/><circle cx="899" cy="588" r="4.5"/><circle cx="861" cy="617" r="4.5"/><circle cx="884" cy="617" r="4.5"/><circle cx="890" cy="617" r="4.5"/><circle cx="910" cy="617" r="4.5"/><circle cx="927" cy="619" r="4.5"/><circle cx="931" cy="617" r="4.5"/><circle cx="936" cy="606" r="4.5"/><circle cx="947" cy="605" r="4.5"/><circle cx="957" cy="617" r="4.5"/><circle cx="890" cy="626" r="4.5"/><circle cx="899" cy="632" r="4.5"/><circle cx="912" cy="632" r="4.5"/><circle cx="940" cy="637" r="4.5"/>
<circle cx="906" cy="648" r="4.5"/><circle cx="910" cy="651" r="4.5"/><circle cx="866" cy="667" r="4.5"/><circle cx="857" cy="676" r="4.5"/><circle cx="926" cy="676" r="4.5"/><circle cx="890" cy="684" r="4.5"/><circle cx="910" cy="691" r="4.5"/><circle cx="897" cy="699" r="4.5"/>
<circle cx="919.5" cy="730" r="4.5"/><circle cx="881" cy="736" r="4.5"/><circle cx="836" cy="745" r="4.5"/><circle cx="902" cy="750" r="4.5"/><circle cx="886" cy="766" r="4.5"/><circle cx="902" cy="771" r="4.5"/><circle cx="683" cy="814" r="4.5"/>
</g>
<path d="M884,530 L886,539 M903,537 L897,541" stroke="#555" stroke-width="1"/>
<g font-size="20">
<text x="365" y="590" text-anchor="middle">Ceruloplasmin</text>
<text x="373" y="653">Carboxylesterase 1C</text>
<text x="212" y="651">Transthyretin</text>
<text x="830" y="525">NHP2</text>
<text x="905" y="535">RPS7</text>
<text x="749" y="548">hnRNP-C1/C2</text>
<text x="983" y="545">RPLP1</text>
<text x="915" y="563">RPL7</text>
<text x="792" y="571">RPL18a</text>
<text x="538" y="607">rRNA/tRNA 2-O-MET FBL-like prot. 1</text>
<text x="839" y="728">ALYREF</text>
<text x="927" y="743">RPS17</text>
<text x="771" y="768">Nucleolin</text>
<text x="906" y="761">RPL23a</text>
<text x="815" y="790">OSBPL3</text>
<text x="906" y="790">RPL37a</text>
<text x="690" y="818">RPS10</text>
</g>
<g font-size="20">
<text x="629" y="642">RPL11</text><text x="710" y="642">RPS20</text>
<text x="629" y="664">RPL14</text><text x="710" y="664">RPS24</text>
<text x="629" y="686">RPL27a</text><text x="710" y="686">U1 snRNP</text>
<text x="630" y="707">NHP2-like prot. 1</text>
<text x="630" y="727">THUMP domain-</text>
<text x="630" y="743">containing prot. 1</text>
</g>
<g font-size="20">
<text x="1008" y="585">RPL4</text><text x="1088" y="585">RPLP2</text>
<text x="1008" y="601">RPL10</text><text x="1088" y="601">RPS9</text>
<text x="1008" y="617">RPL10A</text><text x="1088" y="617">RPS12</text>
<text x="1008" y="633">RPL12</text><text x="1088" y="633">RPS28</text>
<text x="1008" y="649">RPL21</text><text x="1088" y="649">RPS30</text>
<text x="1008" y="665">RPL22</text><text x="1088" y="665">NPM1</text>
<text x="1008" y="681">RPL23</text><text x="1088" y="681">SMD1</text>
<text x="1008" y="697">RPL24</text><text x="1088" y="697">ILF2</text>
<text x="1008" y="714">RPL30</text><text x="1088" y="714">FBL</text>
<text x="1008" y="730">RPL39</text><text x="1088" y="730">SNRPE</text>
</g>

<!-- Panel C -->
<text x="1203" y="441" font-size="50">C</text>
<text x="1574" y="461" font-size="32" text-anchor="middle">PCA</text>
<path d="M1282,480 V885 H1892" stroke="#111" stroke-width="2.5" fill="none"/>
<path d="M1265,480 H1282 M1265,561 H1282 M1265,642 H1282 M1265,723 H1282 M1265,804 H1282 M1265,885 H1282 M1282,885 V902 M1383.7,885 V902 M1485.3,885 V902 M1587,885 V902 M1688.7,885 V902 M1790.3,885 V902 M1892,885 V902" stroke="#111" stroke-width="2.5"/>
<g font-size="25" text-anchor="end">
<text x="1259" y="491">10</text><text x="1259" y="572">5</text><text x="1259" y="653">0</text><text x="1259" y="734">-5</text><text x="1259" y="815">-10</text><text x="1259" y="896">-15</text>
</g>
<g font-size="25" text-anchor="middle">
<text x="1280" y="933">-20</text><text x="1381" y="933">-15</text><text x="1483" y="933">-10</text><text x="1585" y="933">-5</text><text x="1688.7" y="933">0</text><text x="1790.3" y="933">5</text><text x="1890" y="933">10</text>
</g>
<text x="1581" y="982" font-size="30" text-anchor="middle">PC1</text>
<text transform="translate(1222,685) rotate(-90)" font-size="30" text-anchor="middle">PC2</text>
<circle cx="1310.5" cy="608.5" r="8" fill="#f8766d"/>
<g fill="#c77cff"><circle cx="1759" cy="567" r="8"/><circle cx="1722" cy="604" r="8"/><circle cx="1740" cy="604" r="8"/><circle cx="1693" cy="616" r="8"/><circle cx="1707" cy="681" r="8"/></g>
<g fill="#7cae00"><circle cx="1728" cy="620" r="8"/><circle cx="1724" cy="626" r="8"/><circle cx="1735" cy="626" r="8"/><circle cx="1741" cy="649" r="8"/><circle cx="1714" cy="671" r="8"/></g>
<circle cx="1668" cy="830" r="8" fill="#00bfc4"/>
<g font-size="26">
<text x="1312" y="597" fill="#f8766d">564Igi</text>
<text x="1608" y="583" fill="#c77cff">No bridge</text>
<text x="1760" y="658" fill="#7cae00">Bridge</text>
<text x="1685" y="825" fill="#00bfc4">C57Bl6/J</text>
</g>

<!-- Panel D -->
<text x="12" y="1255" font-size="50">D</text>
<rect x="405" y="1238" width="18" height="16" fill="#2d3590"/>
<rect x="526" y="1238" width="18" height="16" fill="#efe9c6"/>
<rect x="660" y="1238" width="18" height="16" fill="#b01a28"/>
<g font-size="27"><text x="448" y="1257">min</text><text x="570" y="1257">med</text><text x="702" y="1257">max</text></g>
<line x1="216" y1="1268" x2="1164" y2="1268" stroke="#9aa9b0" stroke-width="1.5"/>
<line x1="216" y1="1268" x2="216" y2="2508" stroke="#5d7a8a" stroke-width="1.2"/>
<line x1="690" y1="1268" x2="690" y2="2508" stroke="#5d7a8a" stroke-width="1.2"/>
<text x="1183" y="1299" font-size="20">
<tspan x="1183" dy="0">Fibronectin;Anastellin</tspan>
<tspan x="1183" dy="27.51">Heterogeneous nuclear ribonucleoproteins C1/C2</tspan>
<tspan x="1183" dy="27.51">DENN domain-containing protein 1B</tspan>
<tspan x="1183" dy="27.51">E3 ubiquitin-protein ligase TRIM21</tspan>
<tspan x="1183" dy="27.51">HD domain-containing protein 2</tspan>
<tspan x="1183" dy="27.51">Serine/threonine-protein kinase 33</tspan>
<tspan x="1183" dy="27.51">Retnlg</tspan>
<tspan x="1183" dy="27.51">Putative ATP-dependent RNA helicase DHX30</tspan>
<tspan x="1183" dy="27.51">Filamin-A</tspan>
<tspan x="1183" dy="27.51">Complement C3; Complement C3 beta chain;C3-be</tspan>
<tspan x="1183" dy="27.51">Complement C1q subcomponent subunit B</tspan>
<tspan x="1183" dy="27.51">Mannose-binding protein C</tspan>
<tspan x="1183" dy="27.51">SH3 domain-containing protein 21</tspan>
<tspan x="1183" dy="27.51">40S ribosomal protein SA</tspan>
<tspan x="1183" dy="27.51">Vitamin D-binding protein</tspan>
<tspan x="1183" dy="27.51">Centrosomal protein of 162 kDa</tspan>
<tspan x="1183" dy="27.51">Serotransferrin</tspan>
<tspan x="1183" dy="27.51">Hemoglobin subunit beta-1;Hemoglobin subunit be</tspan>
<tspan x="1183" dy="27.51">Hemoglobin subunit alpha</tspan>
<tspan x="1183" dy="27.51">Actin, cytoplasmic 2;Actin, cytoplasmic 2, N-termin</tspan>
<tspan x="1183" dy="27.51">Alpha-1-antitrypsin 1-2</tspan>
<tspan x="1183" dy="27.51">Serum albumin</tspan>
<tspan x="1183" dy="27.51">Alpha-1-antitrypsin 1-1</tspan>
<tspan x="1183" dy="27.51">Tubulin alpha-1C chain;Tubulin alpha-1B chain; Tu</tspan>
<tspan x="1183" dy="27.51">Pancreatic alpha-amylase;Alpha-amylase 1</tspan>
<tspan x="1183" dy="27.51">Transthyretin</tspan>
<tspan x="1183" dy="27.51">Alpha-1-antitrypsin 1-5</tspan>
<tspan x="1183" dy="27.51">40S ribosomal protein S19</tspan>
<tspan x="1183" dy="27.51">40S ribosomal protein S18</tspan>
<tspan x="1183" dy="27.51">40S ribosomal protein S14</tspan>
<tspan x="1183" dy="27.51">40S ribosomal protein S8</tspan>
<tspan x="1183" dy="27.51">60S ribosomal protein L12</tspan>
<tspan x="1183" dy="27.51">60S acidic ribosomal protein P0</tspan>
<tspan x="1183" dy="27.51">Ribose-phosphate pyrophosphokinase 1</tspan>
<tspan x="1183" dy="27.51">60S ribosomal protein L6</tspan>
<tspan x="1183" dy="27.51">60S ribosomal protein L7</tspan>
<tspan x="1183" dy="27.51">60S ribosomal protein L3</tspan>
<tspan x="1183" dy="27.51">40S ribosomal protein S2</tspan>
<tspan x="1183" dy="27.51">Complement C4-B;Complement C4 beta chain;Co</tspan>
<tspan x="1183" dy="27.51">40S ribosomal protein S26</tspan>
<tspan x="1183" dy="27.51">40S ribosomal protein S23</tspan>
<tspan x="1183" dy="27.51">40S ribosomal protein S24</tspan>
<tspan x="1183" dy="27.51">Histone H2A type 1-H;Histone H2A.J;Histone H2A</tspan>
<tspan x="1183" dy="27.51">Vitronectin</tspan>
<tspan x="1183" dy="27.51">Tubulin beta-5 chain;Tubulin beta-2B chain;Tubulin</tspan>
</text>
<path d="M218,2512 H1163 M218,2501 V2522 M690,2501 V2522 M1163,2501 V2522" stroke="#222" stroke-width="4" fill="none"/>
<g font-size="29">
<text x="31" y="2538">564Igi</text>
<text x="146" y="2538">WT</text>
<text x="453" y="2538" text-anchor="middle">No Bridge</text>
<text x="928" y="2538" text-anchor="middle">Bridge</text>
</g>
</svg>
</div></body></html>
